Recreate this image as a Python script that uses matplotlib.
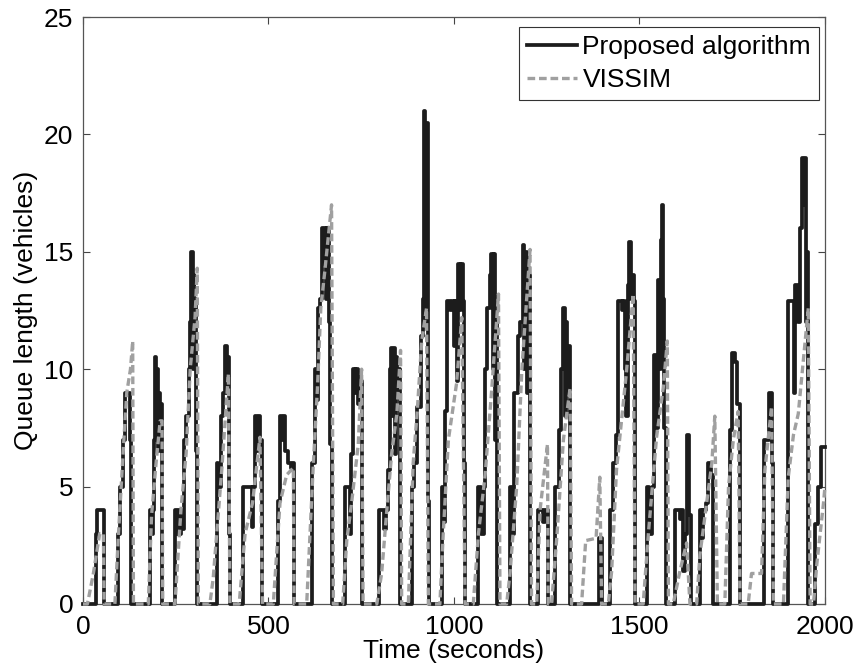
import matplotlib
matplotlib.use('Agg')
import matplotlib.pyplot as plt

plt.rcParams['font.family'] = ['Liberation Sans', 'DejaVu Sans']

# proposed algorithm: queue (vehicles) changes at these times (s), held until next change
prop_t = [0,
          35, 38, 57,
          95, 99, 107, 113, 126, 130,
          180, 185, 188, 191, 195, 198, 200, 202, 205, 208, 211, 214,
          248, 252, 256, 260, 264, 268, 272, 278, 285, 289, 292, 296, 298, 300, 302, 305, 307,
          360, 364, 372, 378, 383, 387, 390, 393, 395,
          432, 455, 459, 465, 470, 474, 478, 482,
          527, 530, 537, 541, 545, 553, 560, 566, 568,
          616, 625, 630, 634, 640, 645, 648, 651, 655, 659, 663, 667, 671,
          706, 719, 723, 727, 733, 737, 741, 745, 751,
          799, 812, 816, 823, 828, 831, 834, 837, 840, 843, 847, 851, 855,
          886, 891, 900, 912, 916, 919, 923, 926, 929, 933,
          967, 972, 977, 982, 990, 994, 1000, 1003, 1007, 1011, 1016, 1019, 1023, 1027, 1030,
          1066, 1072, 1080, 1084, 1090, 1096, 1100, 1104, 1107, 1110, 1113, 1116,
          1151, 1158, 1163, 1172, 1178, 1185, 1190, 1193, 1197, 1201, 1205,
          1227, 1240, 1244, 1254,
          1272, 1282, 1288, 1294, 1298, 1301, 1305, 1309, 1313,
          1392, 1398,
          1420, 1428, 1436, 1443, 1452, 1456, 1461, 1465, 1469, 1473, 1476, 1480, 1484, 1488,
          1519, 1526, 1533, 1539, 1545, 1549, 1554, 1557, 1560, 1564, 1567, 1571,
          1596, 1610, 1614, 1618, 1623, 1627, 1634, 1638,
          1663, 1668, 1672, 1680, 1686, 1694, 1699,
          1744, 1749, 1757, 1763, 1771,
          1836, 1849, 1856, 1859,
          1901, 1916, 1920, 1928, 1933, 1937, 1942, 1946, 1949, 1952, 1955,
          1973, 1980, 1990, 2000]
prop_q = [0,
          3, 4, 0,
          3, 5, 7, 9, 7, 0,
          4, 3, 4, 7, 10.5, 7.5, 10, 6.5, 9, 7.5, 8.5, 0,
          4, 3, 4, 3, 4, 3.2, 7, 8, 10, 12, 15, 10, 14, 11, 13, 6.5, 0,
          6, 5, 8, 9, 11, 9, 10.5, 3, 0,
          5, 3.3, 5, 8, 6.5, 8, 7, 0,
          4.4, 8, 7, 8, 6.5, 6, 5.8, 6, 0,
          6, 10, 8.7, 12.6, 13, 16, 14.5, 16, 13, 16, 12, 6.8, 0,
          5, 3, 6.4, 10, 9, 10, 8.5, 9.5, 0,
          4, 3.2, 4, 5.7, 10, 10.9, 8, 10.9, 6.4, 10.5, 9, 10, 0,
          5, 6, 8.4, 11.4, 13, 21, 12, 20.5, 4.4, 0,
          5, 3.5, 8.2, 12.9, 12.5, 12.9, 11, 12.9, 9.5, 14.5, 12.5, 14.5, 12.9, 6, 0,
          5, 3, 5, 10, 12.6, 14, 14.9, 10, 14.9, 7, 12, 0,
          5, 3, 9, 11.4, 12, 15.3, 10, 15, 9, 14, 0,
          4, 3.5, 4, 0,
          5, 7.4, 10, 12.6, 8, 12, 9, 11, 0,
          2.8, 0,
          4, 6, 7.2, 12.9, 12.5, 12.9, 10, 8, 13.6, 15.4, 13, 14, 12.9, 0,
          5, 3, 5, 10.6, 7.5, 13.8, 10, 15.5, 17, 13, 7.5, 0,
          4, 3.6, 4, 1.4, 3, 7.2, 3.8, 0,
          4, 2.8, 4, 4.3, 6, 5.5, 0,
          7.4, 10.7, 10.3, 8.5, 0,
          7, 9, 6, 0,
          12.9, 9, 13.6, 12, 16, 19, 17, 19, 12, 15, 0,
          3.4, 5, 6.7, 6.7]

# VISSIM output, straight segments between samples
vis_t = [0, 12, 28, 45, 55, 57,
         86, 95, 104, 111, 118, 128, 134, 136,
         176, 185, 197, 208, 213, 215,
         248, 264, 278, 286, 289, 302, 308, 311,
         342, 351, 374, 392, 396,
         421, 437, 457, 477, 484,
         513, 531, 549, 567, 569,
         603, 621, 632, 641, 652, 661, 670, 675,
         700, 711, 724, 742, 751, 755,
         792, 805, 819, 832, 846, 856, 859,
         877, 890, 901, 913, 926, 931,
         962, 971, 985, 1007, 1021, 1030,
         1052, 1066, 1084, 1102, 1120, 1124,
         1142, 1151, 1169, 1183, 1205, 1209,
         1223, 1232, 1252, 1254,
         1263, 1277, 1295, 1313, 1317,
         1344, 1355, 1383, 1393, 1398,
         1416, 1425, 1438, 1447, 1465, 1483, 1488,
         1510, 1524, 1546, 1564, 1575, 1578,
         1591, 1609, 1627, 1636,
         1654, 1663, 1681, 1695, 1703, 1710,
         1730, 1740, 1753, 1766, 1771,
         1793, 1802, 1829, 1838, 1856, 1861,
         1888, 1901, 1915, 1928, 1955, 1960,
         1969, 1978, 1996, 2000]
vis_q = [0, 0, 1.3, 3, 3, 0,
         0, 2.8, 5.3, 7.2, 9, 10, 11.2, 0,
         0, 3.8, 6, 7.8, 7.8, 0,
         0, 4, 6.4, 9, 10, 12.2, 14.3, 0,
         0, 1.1, 5.7, 9.8, 0,
         0, 3, 4.3, 7.1, 0,
         0, 4.3, 5.5, 5.8, 0,
         0, 6, 9.2, 12.6, 14.2, 15.6, 17, 0,
         0, 2.7, 4.3, 6.8, 10, 0,
         0, 1.3, 4, 6.4, 8.1, 10.8, 0,
         0, 6, 8.2, 11.2, 12.6, 0,
         0, 3, 7, 9.4, 12.2, 0,
         0, 3, 5.5, 9.2, 13.2, 0,
         0, 1.3, 5, 10, 15.1, 0,
         0, 4, 6.8, 0,
         0, 2.8, 7, 9.2, 0,
         0, 2.7, 2.8, 5.4, 0,
         0, 1.4, 5.7, 7.1, 9.9, 13.2, 0,
         0, 3, 7.1, 9.2, 11.2, 0,
         0, 1.4, 2.6, 0,
         0, 2.1, 4.3, 6, 8, 0,
         0, 5, 7, 8.2, 0,
         0, 1.3, 1.3, 5.7, 8.4, 0,
         0, 5.4, 7.2, 8.1, 12.6, 0,
         0, 1.7, 4.3, 5]

fig, ax = plt.subplots(figsize=(8.59, 6.72), dpi=100)
fig.subplots_adjust(left=0.0966, right=0.9604, bottom=0.1012, top=0.9747)

ax.step(prop_t, prop_q, where='post', color='#1c1c1c', linewidth=2.7,
        label='Proposed algorithm', clip_on=False, zorder=3)
ax.plot(vis_t, vis_q, color='#a0a0a0', linewidth=2.4, dashes=(2.3, 1.15),
        label='VISSIM', clip_on=False, zorder=4)

ax.set_xlim(0, 2000)
ax.set_ylim(0, 25)
ax.set_xticks([0, 500, 1000, 1500, 2000])
ax.set_yticks([0, 5, 10, 15, 20, 25])
ax.tick_params(direction='in', length=5, width=0.8, color='#444444',
               top=True, right=True, labelsize=19)
ax.tick_params(axis='y', pad=7)
ax.tick_params(axis='x', pad=8)
for s in ax.spines.values():
    s.set_color('#555555')
    s.set_linewidth(0.9)

ax.set_xlabel('Time (seconds)', fontsize=19, labelpad=0)
ax.set_ylabel('Queue length (vehicles)', fontsize=19, labelpad=4)

leg = ax.legend(loc='upper right', bbox_to_anchor=(0.9919, 0.983), fontsize=19,
                fancybox=False, framealpha=1, edgecolor='#333333',
                handlelength=1.9, handletextpad=0.2, labelspacing=0.35,
                borderpad=0.3, borderaxespad=0)
leg.get_frame().set_linewidth(0.8)

fig.savefig('out.png', dpi=100)
